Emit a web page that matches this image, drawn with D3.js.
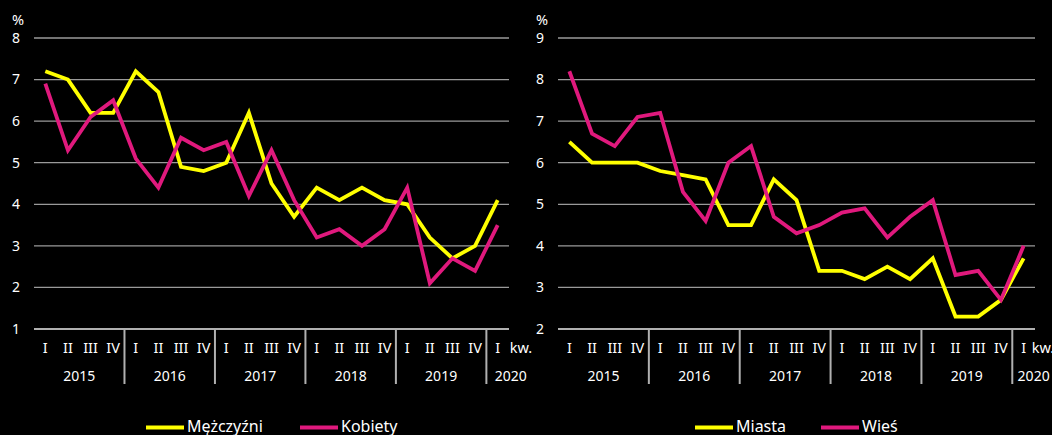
<!DOCTYPE html>
<html><head><meta charset="utf-8">
<script src="https://cdn.jsdelivr.net/npm/d3@7"></script>
<style>
html,body{margin:0;padding:0;background:#000;}
svg{display:block;font-family:"Noto Sans","Open Sans",sans-serif;}
</style></head>
<body>
<svg id="c" width="1052" height="435"></svg>
<script>
const quarters = ["I","II","III","IV","I","II","III","IV","I","II","III","IV","I","II","III","IV","I","II","III","IV","I"];
const years = ["2015","2016","2017","2018","2019","2020"];
const yearStart = [0,4,8,12,16,20];
const yearCount = [4,4,4,4,4,1];

const mezczyzni = [7.2,7.0,6.2,6.2,7.2,6.7,4.9,4.8,5.0,6.2,4.5,3.7,4.4,4.1,4.4,4.1,4.0,3.2,2.7,3.0,4.1];
const kobiety   = [6.9,5.3,6.1,6.5,5.1,4.4,5.6,5.3,5.5,4.2,5.3,4.1,3.2,3.4,3.0,3.4,4.4,2.1,2.7,2.4,3.5];
const miasta    = [6.5,6.0,6.0,6.0,5.8,5.7,5.6,4.5,4.5,5.6,5.1,3.4,3.4,3.2,3.5,3.2,3.7,2.3,2.3,2.7,3.7];
const wies      = [8.2,6.7,6.4,7.1,7.2,5.3,4.6,6.0,6.4,4.7,4.3,4.5,4.8,4.9,4.2,4.7,5.1,3.3,3.4,2.7,4.0];

const leftTicks = [1,2,3,4,5,6,7,8];
const rightTicks = [2,3,4,5,6,7,8,9];

const YELLOW = "#ffff00", PINK = "#e0197d", GRID = "#9a9a9a";
const svg = d3.select("#c");

function panel(opt){
  const g = svg.append("g");
  const idx = d3.range(quarters.length);
  const x = d3.scaleBand().domain(idx).range([opt.x0, opt.x1]).padding(0);
  const y = d3.scaleLinear().domain([opt.ticks[0], opt.ticks[opt.ticks.length-1]]).range([329, 38]);
  const cx = i => x(i) + x.bandwidth()/2;

  // gridlines
  g.selectAll(".grid").data(opt.ticks.slice(1)).join("line")
    .attr("x1", opt.x0).attr("x2", opt.x1)
    .attr("y1", d=>y(d)).attr("y2", d=>y(d))
    .attr("stroke", GRID).attr("stroke-width", 1.3);
  // y labels
  g.selectAll(".yl").data(opt.ticks).join("text")
    .attr("x", opt.x0 - 14).attr("y", d=>y(d)).attr("dy","0.35em")
    .attr("text-anchor","end").attr("fill","#fff").attr("font-size",14)
    .text(d=>d);
  g.append("text").attr("x", opt.x0-22).attr("y", 25).attr("fill","#fff")
    .attr("font-size",14.5).text("%");

  // lines
  const line = d3.line().x((d,i)=>cx(i)).y(d=>y(d));
  opt.series.forEach(s=>{
    g.append("path").datum(s.values).attr("d", line)
      .attr("fill","none").attr("stroke", s.color).attr("stroke-width",3.8)
      .attr("stroke-linejoin","miter");
  });

  // axis baseline
  g.append("line").attr("x1",opt.x0).attr("x2",opt.x1)
    .attr("y1",y(opt.ticks[0])).attr("y2",y(opt.ticks[0]))
    .attr("stroke","#b0b0b0").attr("stroke-width",2);
  // year separators
  g.selectAll(".sep").data(yearStart.slice(1)).join("line")
    .attr("x1", d=>x(d)).attr("x2", d=>x(d))
    .attr("y1", 329).attr("y2", 384)
    .attr("stroke","#b0b0b0").attr("stroke-width",2);
  // quarter labels
  g.selectAll(".q").data(quarters).join("text")
    .attr("x",(d,i)=>cx(i)).attr("y",347.5).attr("dy","0.35em")
    .attr("text-anchor","middle").attr("fill","#fff").attr("font-size",14.5)
    .text(d=>d);
  g.append("text").attr("x", cx(20)+opt.kwOff).attr("y",347.5).attr("dy","0.35em")
    .attr("fill","#fff").attr("font-size",14.5).text("kw.");
  // year labels
  g.selectAll(".yr").data(years).join("text")
    .attr("x",(d,i)=> (x(yearStart[i]) + x(yearStart[i]+yearCount[i]-1) + x.bandwidth())/2 + (i===5?opt.yrOff:0))
    .attr("y",376).attr("dy","0.35em")
    .attr("text-anchor","middle").attr("fill","#fff").attr("font-size",14)
    .text(d=>d);

  // legend
  opt.series.forEach(s=>{
    g.append("line").attr("x1", s.lx).attr("x2", s.lx+38).attr("y1",427.5).attr("y2",427.5)
      .attr("stroke", s.color).attr("stroke-width",3.8);
    g.append("text").attr("x", s.lx+41).attr("y",432)
      .attr("fill","#fff").attr("font-size",16).text(s.name);
  });
}

panel({x0:34, x1:509, kwOff:12, yrOff:13, ticks:leftTicks, series:[
  {name:"Mężczyźni", values:mezczyzni, color:YELLOW, lx:146},
  {name:"Kobiety", values:kobiety, color:PINK, lx:300}
]});
panel({x0:558, x1:1035, kwOff:8, yrOff:10, ticks:rightTicks, series:[
  {name:"Miasta", values:miasta, color:YELLOW, lx:695},
  {name:"Wieś", values:wies, color:PINK, lx:821}
]});
</script>
</body></html>
